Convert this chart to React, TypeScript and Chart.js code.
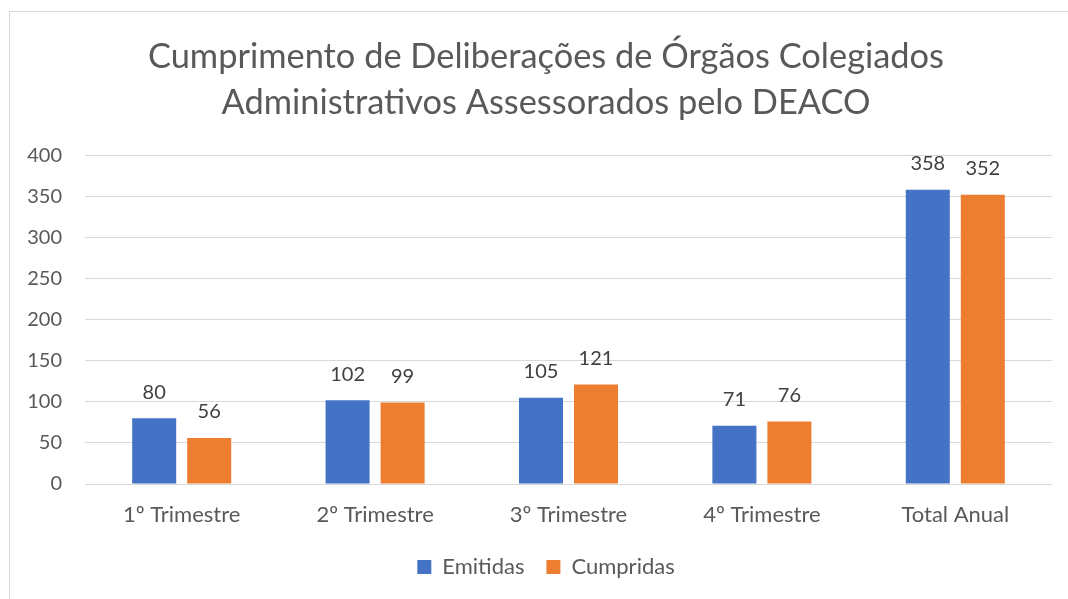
import React, { useEffect, useRef } from "react";
import { Chart, registerables } from "chart.js";

Chart.register(...registerables);

const titleLines = ["Cumprimento de Deliberações de Órgãos Colegiados", "Administrativos Assessorados pelo DEACO"];
const categories = ["1º Trimestre", "2º Trimestre", "3º Trimestre", "4º Trimestre", "Total Anual"];
const emitidas = [80, 102, 105, 71, 358];
const cumpridas = [56, 99, 121, 76, 352];
const seriesNames = ["Emitidas", "Cumpridas"];
const yMin = 0;
const yMax = 400;
const yStep = 50;

const FONT = "Lato, 'Open Sans', sans-serif";
const GRAY = "#595959";

const dataLabelPlugin = {
  id: "dataLabels",
  afterDatasetsDraw(chart: any) {
    const ctx = chart.ctx;
    ctx.save();
    ctx.font = `20px ${FONT}`;
    ctx.fillStyle = "#404040";
    ctx.textAlign = "center";
    ctx.textBaseline = "middle";
    chart.data.datasets.forEach((ds: any, i: number) => {
      const meta = chart.getDatasetMeta(i);
      meta.data.forEach((el: any, j: number) => {
        ctx.fillText(String(ds.data[j]), el.x, el.y - 26);
      });
    });
    ctx.restore();
  },
};

export default function App() {
  const ref = useRef<HTMLCanvasElement | null>(null);
  useEffect(() => {
    if (!ref.current) return;
    const chart = new Chart(ref.current, {
      type: "bar",
      data: {
        labels: categories,
        datasets: [
          { label: seriesNames[0], data: emitidas, backgroundColor: "#4472C4", categoryPercentage: 0.569, barPercentage: 0.8 },
          { label: seriesNames[1], data: cumpridas, backgroundColor: "#ED7D31", categoryPercentage: 0.569, barPercentage: 0.8 },
        ],
      },
      options: {
        animation: false,
        responsive: false,
        maintainAspectRatio: false,
        layout: { padding: { top: 0, right: 0, bottom: 11, left: 0 } },
        plugins: {
          title: {
            display: true,
            text: titleLines,
            color: GRAY,
            font: { family: FONT, size: 34.4, weight: "normal", lineHeight: 1.34 },
            padding: { top: 22, bottom: 29 },
          },
          legend: {
            position: "bottom",
            labels: {
              color: GRAY,
              font: { family: FONT, size: 22 },
              boxWidth: 14,
              boxHeight: 14,
              padding: 22,
            },
          },
          tooltip: { enabled: false },
        },
        scales: {
          x: {
            grid: { display: false, drawTicks: false },
            border: { display: false },
            ticks: { color: GRAY, font: { family: FONT, size: 22 }, padding: 18 },
            afterFit: (s: any) => { s.height = 50; },
          },
          y: {
            min: yMin,
            max: yMax,
            ticks: { stepSize: yStep, color: GRAY, font: { family: FONT, size: 20 }, padding: 23 },
            grid: { color: "#d9d9d9", lineWidth: 1, drawTicks: false },
            border: { display: false },
            afterFit: (s: any) => { s.width = 75; },
          },
          yRightSpace: {
            position: "right",
            display: true,
            min: yMin,
            max: yMax,
            grid: { display: false, drawTicks: false },
            border: { display: false },
            ticks: { display: false },
            afterFit: (s: any) => { s.width = 30; },
          },
        },
      },
      plugins: [dataLabelPlugin],
    });
    return () => chart.destroy();
  }, []);

  return (
    <div style={{ position: "absolute", left: 0, top: 0, width: 1068, height: 599, overflow: "hidden", background: "#fff" }}>
      <div style={{ position: "absolute", left: 9, top: 11, width: 1072, height: 620, border: "1px solid #d9d9d9" }}>
        <canvas ref={ref} width={1072} height={587} style={{ display: "block", width: 1072, height: 587 }} />
      </div>
    </div>
  );
}
